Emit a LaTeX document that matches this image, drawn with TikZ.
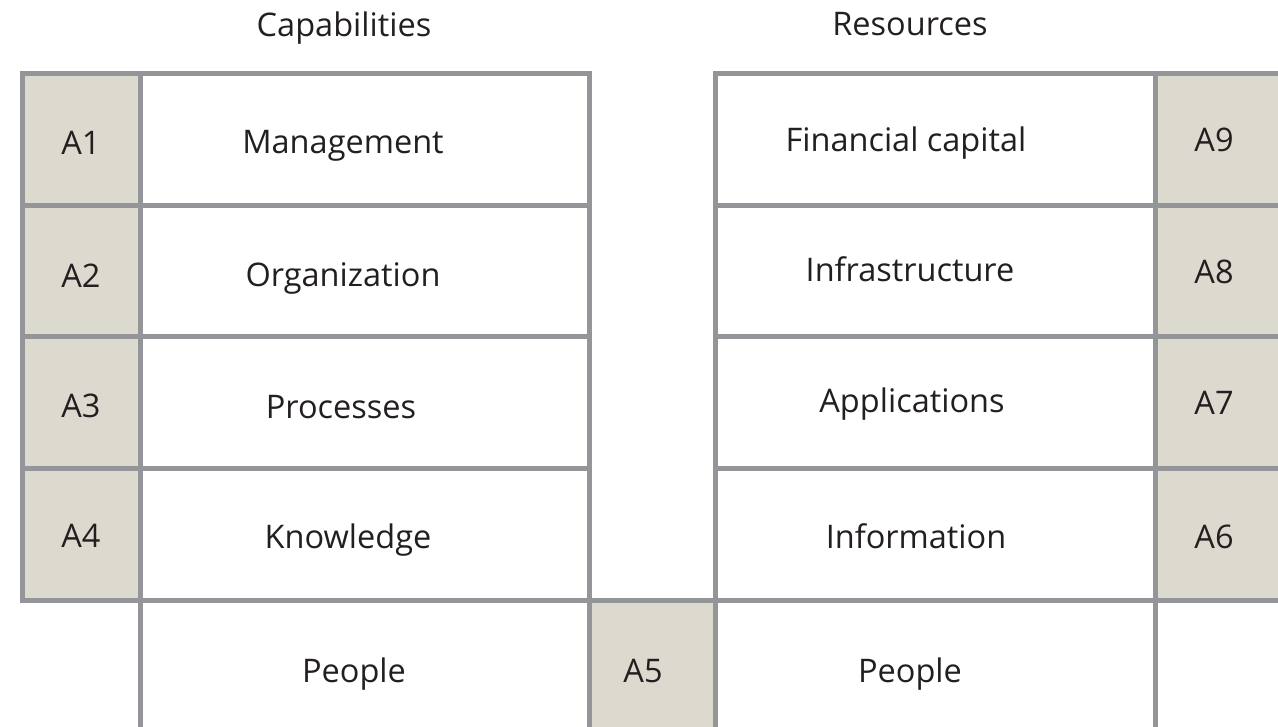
\documentclass[tikz,border=0pt]{standalone}
\usepackage{fontspec}
\setmainfont{Open Sans}
\definecolor{linegrey}{HTML}{939598}
\definecolor{cellgrey}{HTML}{DCDACE}
\definecolor{txtgrey}{HTML}{231F20}
\tikzset{
  cellbox/.style={draw=linegrey, line width=5pt, fill=white, rectangle, inner sep=0pt, outer sep=0pt},
  abox/.style={cellbox, fill=cellgrey},
  txt/.style={text=txtgrey, font=\fontsize{32.5}{38}\selectfont, inner sep=0pt, anchor=center, text height=23.2pt, text depth=0pt},
}
\newcommand{\cellrect}[6]{% style, name, x1, y1, x2, y2
  \node[#1, minimum width={#5pt-#3pt}, minimum height={#6pt-#4pt}] (#2) at ({(#3+#5)/2},{(#4+#6)/2}) {};}
\begin{document}
\begin{tikzpicture}[x=1pt, y=-1pt]
\useasboundingbox (0,0) rectangle (1278,727);
\clip (0,0) rectangle (1278,727);
% left block
\cellrect{abox}{a1}{22.5}{74}{140.5}{205.5}
\cellrect{abox}{a2}{22.5}{205.5}{140.5}{337}
\cellrect{abox}{a3}{22.5}{337}{140.5}{468.5}
\cellrect{abox}{a4}{22.5}{468.5}{140.5}{600}
\cellrect{cellbox}{c1}{140.5}{74}{589.5}{205.5}
\cellrect{cellbox}{c2}{140.5}{205.5}{589.5}{337}
\cellrect{cellbox}{c3}{140.5}{337}{589.5}{468.5}
\cellrect{cellbox}{c4}{140.5}{468.5}{589.5}{600}
\cellrect{cellbox}{c5}{140.5}{600}{589.5}{780}
% middle
\cellrect{abox}{a5}{589.5}{600}{715.5}{780}
% right block
\cellrect{cellbox}{r1}{715.5}{74}{1155.5}{205.5}
\cellrect{cellbox}{r2}{715.5}{205.5}{1155.5}{337}
\cellrect{cellbox}{r3}{715.5}{337}{1155.5}{468.5}
\cellrect{cellbox}{r4}{715.5}{468.5}{1155.5}{600}
\cellrect{cellbox}{r5}{715.5}{600}{1155.5}{780}
\cellrect{abox}{a9}{1155.5}{74}{1320}{205.5}
\cellrect{abox}{a8}{1155.5}{205.5}{1320}{337}
\cellrect{abox}{a7}{1155.5}{337}{1320}{468.5}
\cellrect{abox}{a6}{1155.5}{468.5}{1320}{600}
\cellrect{cellbox}{r6}{1155.5}{600}{1320}{780}
% titles
\node[txt] (tcap) at (344,24.5) {Capabilities};
\node[txt] (tres) at (910,24) {Resources};
% labels left
\node[txt] (la1) at (81,143) {A1};
\node[txt] (la2) at (81,276) {A2};
\node[txt] (la3) at (81,406) {A3};
\node[txt] (la4) at (81,536) {A4};
\node[txt] (lc1) at (343,142) {Management};
\node[txt] (lc2) at (343,275) {Organization};
\node[txt] (lc3) at (341,407) {Processes};
\node[txt] (lc4) at (348,536.5) {Knowledge};
\node[txt] (lc5) at (354,671) {People};
\node[txt] (la5) at (643,671) {A5};
% labels right
\node[txt] (lr1) at (906,140) {Financial capital};
\node[txt] (lr2) at (910,269.5) {Infrastructure};
\node[txt] (lr3) at (912,401) {Applications};
\node[txt] (lr4) at (916,537) {Information};
\node[txt] (lr5) at (910,671) {People};
\node[txt] (la9) at (1214,140) {A9};
\node[txt] (la8) at (1214,272) {A8};
\node[txt] (la7) at (1214,403) {A7};
\node[txt] (la6) at (1214,537) {A6};
\end{tikzpicture}
\end{document}
